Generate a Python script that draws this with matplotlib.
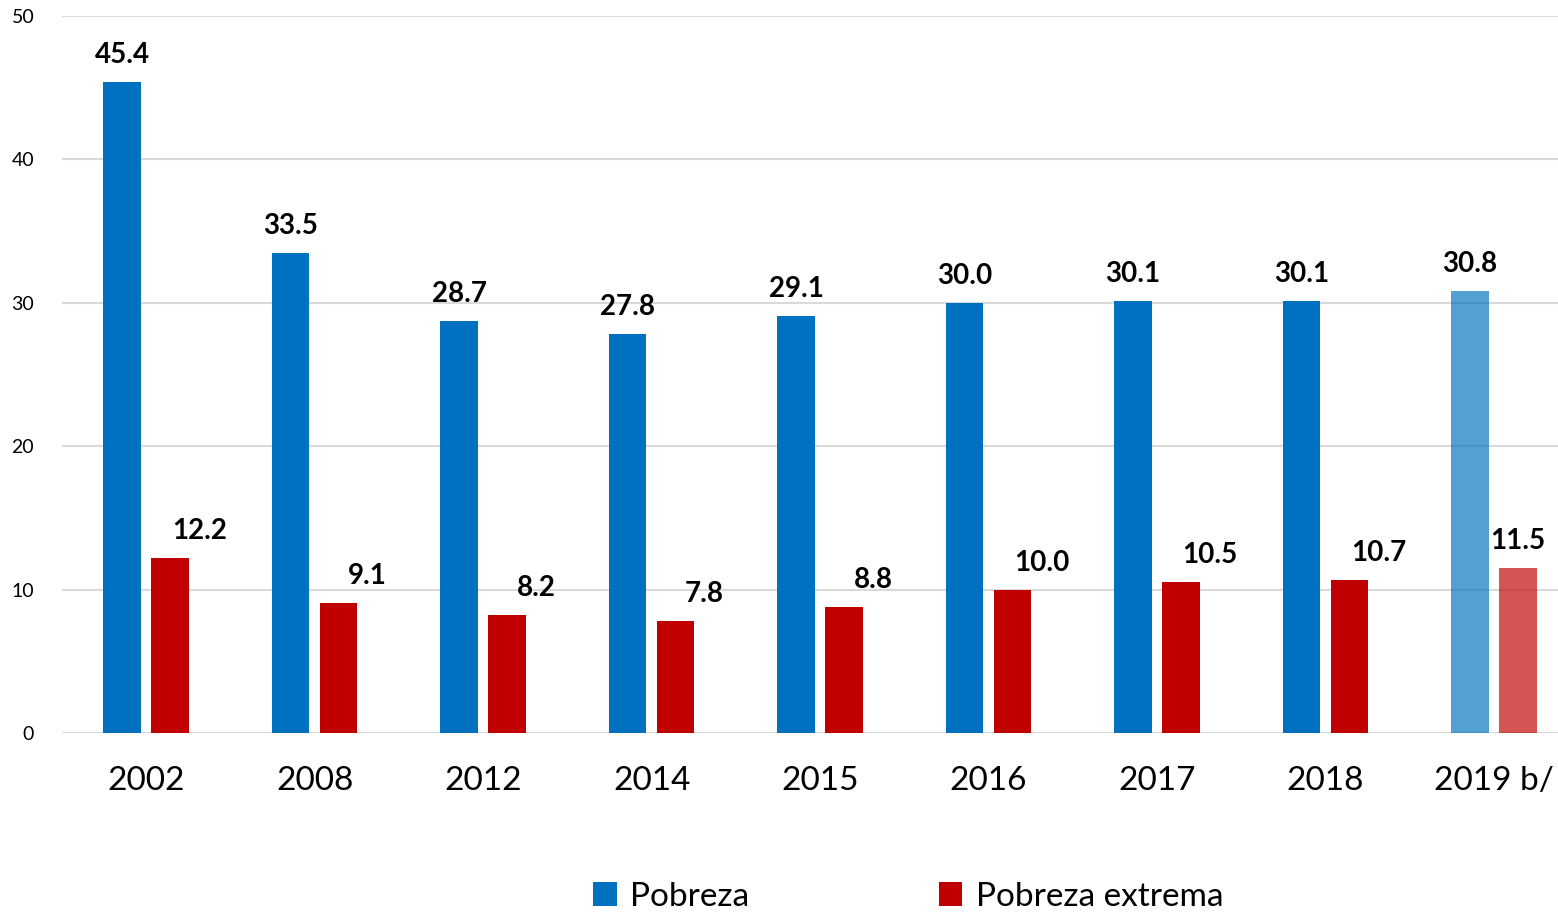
import matplotlib.pyplot as plt
import numpy as np

years = ["2002", "2008", "2012", "2014", "2015", "2016", "2017", "2018", "2019 b/"]
pobreza = [45.4, 33.5, 28.7, 27.8, 29.1, 30.0, 30.1, 30.1, 30.8]
extrema = [12.2, 9.1, 8.2, 7.8, 8.8, 10.0, 10.5, 10.7, 11.5]

plt.rcParams['font.family'] = ['Lato', 'DejaVu Sans']

fig = plt.figure(figsize=(15.58, 9.17), dpi=100)
ax = fig.add_axes([62 / 1558, 1 - 733 / 917, 1 - 62 / 1558, (733 - 16) / 917])

x = np.arange(len(years))
w = 0.2226
off = 0.1424
blue = "#0070C0"
red = "#C00000"

for i in range(len(years)):
    last = i == len(years) - 1
    a = 0.67 if last else 1.0
    ax.bar(x[i] - off, pobreza[i], w, color=blue, alpha=a, zorder=3,
           label="Pobreza" if i == 0 else None)
    ax.bar(x[i] + off, extrema[i], w, color=red, alpha=a, zorder=3,
           label="Pobreza extrema" if i == 0 else None)
    ax.annotate(f"{pobreza[i]:.1f}", (x[i] - off, pobreza[i]), xytext=(0, 14),
                textcoords="offset pixels", ha="center", va="bottom",
                fontsize=20, fontweight="bold")
    ax.annotate(f"{extrema[i]:.1f}", (x[i] + off, extrema[i]),
                xytext=(0 if last else 29, 14),
                textcoords="offset pixels", ha="center", va="bottom",
                fontsize=20, fontweight="bold")

ax.set_ylim(0, 50)
ax.set_xlim(-0.5, 8.38)
ax.set_yticks([0, 10, 20, 30, 40, 50])
ax.set_xticks(x)
ax.set_xticklabels(years, fontsize=24)
ax.tick_params(axis="y", labelsize=14, length=0, pad=20)
ax.tick_params(axis="x", length=0, pad=24)
for s in ax.spines.values():
    s.set_visible(False)
ax.grid(axis="y", color="#d9d9d9", linewidth=1.5, zorder=0)
ax.set_axisbelow(True)

fig.legend(loc="center", bbox_to_anchor=(0.583, 0.022), ncol=2, frameon=False,
           fontsize=24, handlelength=0.7, handleheight=0.7, handletextpad=0.4,
           columnspacing=5.7)

fig.savefig("out.png", dpi=100)
